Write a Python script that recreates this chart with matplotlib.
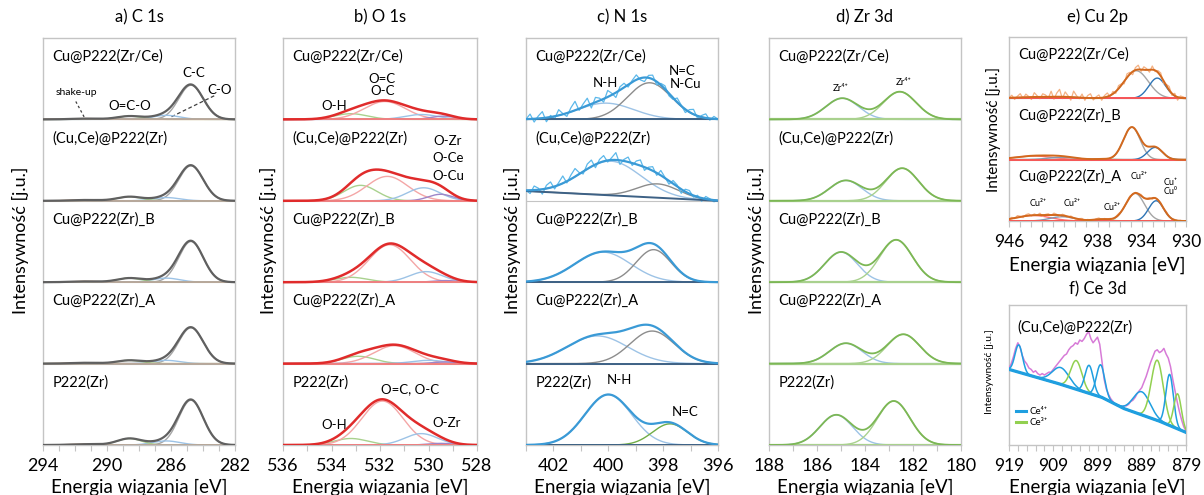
import numpy as np
import matplotlib
matplotlib.use("Agg")
import matplotlib.pyplot as plt

plt.rcParams["font.family"] = ["Lato", "DejaVu Sans"]

# ======================= DATA =======================
samples5 = ["Cu@P222(Zr/Ce)", "(Cu,Ce)@P222(Zr)", "Cu@P222(Zr)_B", "Cu@P222(Zr)_A", "P222(Zr)"]

# a) C 1s : components C-C, C-O, O=C-O, shake-up
c1s_centers = [[284.75, 286.3, 288.6, 291.3]] * 5
c1s_fwhm = [[1.8, 2.0, 1.8, 2.2]] * 5
c1s_heights = [[0.42, 0.05, 0.04, 0.01],
               [0.43, 0.04, 0.05, 0.01],
               [0.50, 0.05, 0.05, 0.01],
               [0.44, 0.04, 0.04, 0.01],
               [0.55, 0.05, 0.08, 0.01]]

# b) O 1s : components O-H, O=C/O-C, O-M, O-M2
o1s_centers = [[533.2, 531.8, 530.3, 529.4],
               [532.8, 531.7, 530.2, 529.5],
               [533.2, 531.6, 530.1, 529.3],
               [532.9, 531.4, 530.0, 529.3],
               [533.2, 531.9, 530.3, 529.5]]
o1s_fwhm = [[1.6, 2.0, 1.6, 1.2]] * 5
o1s_heights = [[0.07, 0.22, 0.06, 0.04],
               [0.19, 0.30, 0.16, 0.08],
               [0.06, 0.46, 0.13, 0.02],
               [0.09, 0.22, 0.04, 0.02],
               [0.08, 0.54, 0.14, 0.02]]

# c) N 1s : components N-H, N=C/N-Cu
n1s_centers = [[400.1, 398.5], [399.9, 398.2], [400.2, 398.35], [400.4, 398.4], [400.0, 397.75]]
n1s_fwhm = [[2.4, 1.9], [2.6, 1.8], [2.4, 1.5], [2.6, 1.9], [2.0, 1.5]]
n1s_heights = [[0.20, 0.45], [0.42, 0.17], [0.37, 0.40], [0.34, 0.40], [0.62, 0.26]]
n1s_base_left = [0.0, 0.12, 0.0, 0.0, 0.0]
n1s_zrce_resid = [0.00, 0.06, -0.04, 0.03, 0.08, -0.05, 0.02, -0.03, 0.07, 0.01, -0.04, 0.05,
                  0.11, -0.02, 0.04, 0.09, -0.05, 0.06, 0.03, -0.04, 0.08, 0.02, -0.06, 0.04,
                  0.05, -0.03, 0.02, 0.06, -0.02, -0.05, 0.03, 0.05, -0.04, 0.02, 0.04, -0.03,
                  -0.02, 0.05, 0.01, -0.04, 0.03, 0.06, -0.03, 0.02, 0.05, -0.02, 0.03, 0.00]
n1s_cuce_resid = [0.00, -0.04, 0.05, 0.02, -0.06, 0.04, 0.07, -0.03, 0.03, 0.09, -0.02, 0.05,
                  0.10, 0.02, -0.03, 0.06, 0.08, -0.04, 0.04, 0.07, -0.02, 0.03, 0.09, -0.05,
                  0.02, 0.06, -0.03, 0.04, 0.07, -0.04, 0.02, 0.05, -0.03, 0.06, 0.01, -0.04,
                  0.04, 0.02, -0.05, 0.03, 0.04, -0.02, 0.02, -0.04, 0.03, 0.01, -0.02, 0.00]

# d) Zr 3d : components Zr 3d3/2, Zr 3d5/2
zr_centers = [[184.95, 182.55], [184.8, 182.45], [185.0, 182.7], [184.8, 182.4], [185.2, 182.8]]
zr_fwhm = [[1.6, 1.6]] * 5
zr_heights = [[0.26, 0.34], [0.25, 0.40], [0.37, 0.52], [0.25, 0.36], [0.37, 0.54]]

# e) Cu 2p : components Cu2+ main, Cu+/Cu0, sat1, sat2, sat3
cu_samples = ["Cu@P222(Zr/Ce)", "Cu@P222(Zr)_B", "Cu@P222(Zr)_A"]
cu_centers = [[934.5, 932.6, 943.8, 941.0, 937.6],
              [934.9, 932.8, 943.8, 941.2, 937.6],
              [934.6, 932.7, 943.8, 941.2, 937.6]]
cu_fwhm = [[2.6, 1.8, 4.0, 3.0, 1.8],
           [1.8, 1.6, 4.0, 3.0, 1.8],
           [2.0, 1.6, 3.6, 2.6, 1.8]]
cu_heights = [[0.45, 0.33, 0.02, 0.02, 0.00],
              [0.53, 0.20, 0.06, 0.04, 0.01],
              [0.45, 0.33, 0.09, 0.07, 0.03]]
cu_zrce_resid = [0.00, 0.04, -0.03, 0.02, 0.06, -0.02, 0.05, 0.01, -0.04, 0.07, 0.02, -0.03,
                 0.05, 0.03, -0.02, 0.09, -0.04, 0.06, 0.12, -0.03, 0.08, 0.02, -0.05, 0.10,
                 0.03, -0.02, 0.06, -0.04, 0.04, 0.07, -0.03, 0.02, 0.05, -0.04, 0.03, 0.06,
                 -0.02, 0.04, -0.03, 0.05, 0.02, -0.04, 0.06, 0.03, -0.05, 0.04, 0.07, -0.03,
                 0.05, 0.02, -0.04, 0.06, -0.02, 0.03, 0.05, -0.04, 0.02, 0.06, -0.03, 0.04,
                 -0.05, 0.03, 0.02, 0.00]
cu_a_resid = [0.00, 0.02, -0.01, 0.03, 0.01, -0.02, 0.02, 0.03, -0.01, 0.02, 0.00, 0.03,
              -0.02, 0.01, 0.02, -0.01, 0.03, 0.01, -0.02, 0.02, 0.01, -0.01, 0.02, 0.00,
              -0.02, 0.01, 0.02, -0.01, 0.01, 0.00, -0.01, 0.01, 0.02, -0.01, 0.01, 0.00,
              0.01, -0.01, 0.01, 0.02, 0.00, -0.01, 0.01, 0.02, -0.01, 0.01, 0.00, 0.02,
              -0.01, 0.01, 0.02, -0.02, 0.01, 0.00, 0.01, -0.01, 0.02, 0.00, -0.01, 0.01,
              0.00, 0.01, -0.01, 0.00]

# f) Ce 3d
ce_energy = np.arange(919.0, 878.9, -0.5)
ce_raw = [0.55, 0.58, 0.63, 0.69, 0.73, 0.70, 0.64, 0.60, 0.58, 0.55, 0.54, 0.52, 0.53, 0.51,
          0.50, 0.51, 0.50, 0.51, 0.52, 0.52, 0.54, 0.56, 0.58, 0.60, 0.62, 0.64, 0.65, 0.68,
          0.70, 0.71, 0.73, 0.72, 0.75, 0.74, 0.76, 0.79, 0.81, 0.76, 0.73, 0.75, 0.77, 0.72,
          0.60, 0.47, 0.40, 0.36, 0.33, 0.31, 0.29, 0.28, 0.28, 0.27, 0.28, 0.28, 0.29, 0.31,
          0.32, 0.34, 0.37, 0.39, 0.41, 0.45, 0.49, 0.54, 0.59, 0.63, 0.67, 0.68, 0.66, 0.67,
          0.69, 0.65, 0.62, 0.56, 0.47, 0.39, 0.31, 0.24, 0.18, 0.13, 0.10]
ce_base_e = [919, 908, 898, 893, 885, 879]
ce_base_y = [0.54, 0.44, 0.34, 0.26, 0.17, 0.09]
ce_centers = [916.8, 907.3, 903.8, 900.9, 898.3, 889.0, 885.5, 882.7, 880.9]
ce_fwhm = [2.0, 4.5, 3.0, 2.2, 2.2, 4.5, 3.2, 2.0, 2.0]
ce_heights = [0.195, 0.12, 0.205, 0.20, 0.23, 0.165, 0.43, 0.365, 0.25]
ce_state = [4, 4, 3, 4, 4, 4, 3, 4, 3]

# ======================= STYLE / LAYOUT =======================
W, H = 1204, 495
fig = plt.figure(figsize=(W / 100, H / 100), dpi=100)
FRAME = "#c4c4c4"
TICK_FS = 13
XL_FS = 13.5
YL_FS = 13
TITLE_FS = 12
LAB_FS = 10.5


def add_ax(x0, y0, x1, y1):
    return fig.add_axes([x0 / W, 1 - y1 / H, (x1 - x0) / W, (y1 - y0) / H])


def gauss(x, c, h, w):
    return h * np.exp(-4 * np.log(2) * (x - c) ** 2 / w ** 2)


def style_axis(ax, xlim, major, minor, ylim, tick_fs=TICK_FS):
    ax.set_xlim(*xlim)
    ax.set_ylim(*ylim)
    ax.set_yticks([])
    ax.set_xticks(major)
    ax.set_xticklabels([str(m) for m in major])
    ax.set_xticks(minor, minor=True)
    ax.tick_params(axis="x", which="both", direction="out", length=4.5, width=0.8,
                   color=FRAME, labelsize=tick_fs, pad=5)
    for s in ax.spines.values():
        s.set_color(FRAME)
        s.set_linewidth(1.0)


def stacked(ax, xlim, samples, centers, fwhm, heights, comp_colors, env_color, env_lw,
            base_color, base_lw, base_left=None, resid=None, raw_color=None, label_y=0.77):
    n = len(samples)
    per_sample = isinstance(comp_colors[0], (list, tuple))
    x = np.linspace(xlim[0], xlim[1], 600)
    for k in range(1, n):
        ax.axhline(k, color=FRAME, lw=0.8, zorder=1)
    for i in range(n):
        off = n - 1 - i
        bl = base_left[i] if base_left is not None else 0.0
        base = off + bl * (x - xlim[1]) / (xlim[0] - xlim[1])
        total = np.zeros_like(x)
        for j, (c, w, h) in enumerate(zip(centers[i], fwhm[i], heights[i])):
            if h <= 0:
                continue
            g = gauss(x, c, h, w)
            total += g
            col = comp_colors[i][j] if per_sample else comp_colors[j]
            ax.plot(x, base + g, color=col, lw=1.0, zorder=3)
        if resid is not None and i in resid:
            r = np.array(resid[i])
            xr = np.linspace(xlim[0], xlim[1], len(r))
            br = off + bl * (xr - xlim[1]) / (xlim[0] - xlim[1])
            tr = np.zeros_like(xr)
            for c, w, h in zip(centers[i], fwhm[i], heights[i]):
                tr += gauss(xr, c, h, w)
            ax.plot(xr, br + tr + r, color=raw_color, lw=0.9, zorder=4)
        ax.plot(x, base, color=base_color, lw=base_lw, zorder=5)
        ax.plot(x, base + total, color=env_color, lw=env_lw, zorder=6)
        ax.text(0.05, off + label_y, samples[i], transform=ax.get_yaxis_transform(),
                fontsize=LAB_FS, va="center", ha="left", zorder=8)


def xlabel_title(x0, x1, ybot, title, ytitle):
    xc = (x0 + x1) / 2 / W
    fig.text(xc, 1 - ytitle / H, title, ha="center", va="center", fontsize=TITLE_FS)
    fig.text(xc, 1 - ybot / H, "Energia wiązania [eV]", ha="center", va="center", fontsize=XL_FS)


def ylabel(x, yc, fs=YL_FS):
    fig.text(x / W, 1 - yc / H, "Intensywność [j.u.]", rotation=90, ha="center", va="center",
             fontsize=fs)


# ---------------- a) C 1s ----------------
A = (43, 38, 235, 445)
ax = add_ax(*A)
style_axis(ax, (294, 282), [294, 290, 286, 282], np.arange(282, 295, 1), (0, 5))
stacked(ax, (294, 282), samples5, c1s_centers, c1s_fwhm, c1s_heights,
        ["#a5a5a5", "#9dc3e6", "#a9d18e", "#f4b183"], "#606060", 1.6, "#b3a79c", 1.3)
ax.text(284.55, 4.57, "C-C", fontsize=9.5, ha="center", va="center")
ax.text(282.95, 4.36, "C-O", fontsize=9.5, ha="center", va="center")
ax.text(288.6, 4.17, "O=C-O", fontsize=9.5, ha="center", va="center")
ax.text(291.9, 4.33, "shake-up", fontsize=7.5, ha="center", va="center")
ax.plot([291.95, 291.4], [4.22, 4.02], ls=(0, (2, 2)), color="#404040", lw=0.9)
ax.plot([283.3, 286.1], [4.29, 4.02], ls=(0, (3, 2)), color="#404040", lw=0.9)
xlabel_title(A[0], A[2], 487, "a) C 1s", 17)
ylabel(20, 240)

# ---------------- b) O 1s ----------------
B = (283, 38, 477, 445)
ax = add_ax(*B)
style_axis(ax, (536, 528), [536, 534, 532, 530, 528], np.arange(528, 537, 1), (0, 5))
stacked(ax, (536, 528), samples5, o1s_centers, o1s_fwhm, o1s_heights,
        ["#a9d18e", "#f4a6a6", "#9dc3e6", "#9e86c8"], "#e02b2b", 1.8, "#f08080", 1.4)
ax.text(531.9, 4.5, "O=C", fontsize=9.5, ha="center", va="center")
ax.text(531.9, 4.35, "O-C", fontsize=9.5, ha="center", va="center")
ax.text(533.9, 4.17, "O-H", fontsize=9.5, ha="center", va="center")
ax.text(529.2, 3.73, "O-Zr", fontsize=9.5, ha="center", va="center")
ax.text(529.2, 3.52, "O-Ce", fontsize=9.5, ha="center", va="center")
ax.text(529.2, 3.31, "O-Cu", fontsize=9.5, ha="center", va="center")
ax.text(530.75, 0.69, "O=C, O-C", fontsize=9.5, ha="center", va="center")
ax.text(533.9, 0.25, "O-H", fontsize=9.5, ha="center", va="center")
ax.text(529.25, 0.27, "O-Zr", fontsize=9.5, ha="center", va="center")
xlabel_title(B[0], B[2], 487, "b) O 1s", 17)
ylabel(268, 240)

# ---------------- c) N 1s ----------------
C = (526, 38, 718, 445)
ax = add_ax(*C)
style_axis(ax, (403, 396), [402, 400, 398, 396], np.arange(396, 404, 1), (0, 5))
n1s_colors = [["#9dc3e6", "#8c8c8c"]] * 4 + [["#9dc3e6", "#70ad47"]]
stacked(ax, (403, 396), samples5, n1s_centers, n1s_fwhm, n1s_heights,
        n1s_colors, "#3a9ad6", 1.6, "#3d6185", 1.4, base_left=n1s_base_left,
        resid={0: n1s_zrce_resid, 1: n1s_cuce_resid}, raw_color="#5cb8ea")
ax.text(400.1, 4.45, "N-H", fontsize=9.5, ha="center", va="center")
ax.text(397.3, 4.6, "N=C", fontsize=9.5, ha="center", va="center")
ax.text(397.2, 4.43, "N-Cu", fontsize=9.5, ha="center", va="center")
ax.text(399.6, 0.8, "N-H", fontsize=9.5, ha="center", va="center")
ax.text(397.2, 0.4, "N=C", fontsize=9.5, ha="center", va="center")
xlabel_title(C[0], C[2], 487, "c) N 1s", 17)
ylabel(512, 240)

# ---------------- d) Zr 3d ----------------
D = (769, 38, 961, 445)
ax = add_ax(*D)
style_axis(ax, (188, 180), [188, 186, 184, 182, 180], np.arange(180, 189, 1), (0, 5))
stacked(ax, (188, 180), samples5, zr_centers, zr_fwhm, zr_heights,
        ["#9dc3e6", "#a9d18e"], "#7cb755", 1.3, "#a9d18e", 1.6)
ax.text(185.0, 4.38, "Zr⁴⁺", fontsize=7, ha="center", va="center")
ax.text(182.4, 4.45, "Zr⁴⁺", fontsize=7, ha="center", va="center")
xlabel_title(D[0], D[2], 487, "d) Zr 3d", 17)
ylabel(756, 240)

# ---------------- e) Cu 2p ----------------
E = (1009, 37, 1186, 221)
ax = add_ax(*E)
style_axis(ax, (946, 930), [946, 942, 938, 934, 930], np.arange(930, 947, 1), (0, 3),
           tick_fs=12.5)
stacked(ax, (946, 930), cu_samples, cu_centers, cu_fwhm, cu_heights,
        ["#a5a5a5", "#2e75b6", "#ff7070", "#8497b0", "#a9d18e"], "#d2691e", 1.4, "#ff5050", 1.3,
        resid={0: cu_zrce_resid, 2: cu_a_resid}, raw_color="#f4b183", label_y=0.72)
ax.text(934.2, 0.72, "Cu²⁺", fontsize=6.5, ha="center", va="center")
ax.text(931.4, 0.62, "Cu⁺", fontsize=6.5, ha="center", va="center")
ax.text(931.4, 0.48, "Cu⁰", fontsize=6.5, ha="center", va="center")
ax.text(943.4, 0.28, "Cu²⁺", fontsize=6.5, ha="center", va="center")
ax.text(940.3, 0.28, "Cu²⁺", fontsize=6.5, ha="center", va="center")
ax.text(936.7, 0.22, "Cu²⁺", fontsize=6.5, ha="center", va="center")
xlabel_title(E[0], E[2], 265, "e) Cu 2p", 17)
ylabel(994, 130, fs=11)

# ---------------- f) Ce 3d ----------------
F = (1009, 305, 1186, 445)
ax = add_ax(*F)
style_axis(ax, (919, 879), [919, 909, 899, 889, 879], np.arange(879, 920, 2), (0, 1),
           tick_fs=12.5)
xf = np.linspace(919, 879, 600)
basef = np.interp(xf, ce_base_e[::-1], ce_base_y[::-1])
ax.plot(ce_energy, ce_raw, color="#d77bd7", lw=1.1, zorder=3)
for c, w, h, s in zip(ce_centers, ce_fwhm, ce_heights, ce_state):
    ax.plot(xf, basef + gauss(xf, c, h, w), color="#1f9fe0" if s == 4 else "#92d050",
            lw=1.1, zorder=4)
ax.plot(ce_base_e, ce_base_y, color="#1f9fe0", lw=2.3, zorder=5)
ax.text(0.05, 0.84, "(Cu,Ce)@P222(Zr)", transform=ax.transAxes, fontsize=LAB_FS,
        ha="left", va="center")
h4, = ax.plot([], [], color="#1f9fe0", lw=2.2, label="Ce⁴⁺")
h3, = ax.plot([], [], color="#92d050", lw=2.2, label="Ce³⁺")
ax.legend(handles=[h4, h3], loc="lower left", bbox_to_anchor=(0.0, 0.08), frameon=False,
          fontsize=7, handlelength=1.0, handletextpad=0.4, labelspacing=0.2, borderpad=0.2)
xlabel_title(F[0], F[2], 487, "f) Ce 3d", 289)
ylabel(989, 372, fs=7.5)

fig.savefig("out.png", dpi=100)
